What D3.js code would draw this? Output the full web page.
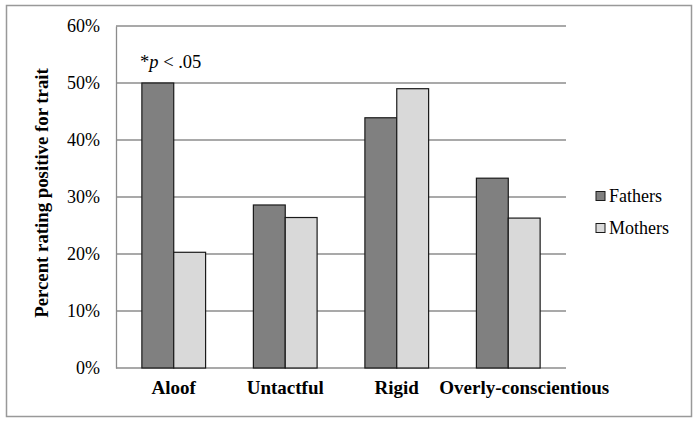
<!DOCTYPE html>
<html><head><meta charset="utf-8">
<script src="https://cdn.jsdelivr.net/npm/d3@7"></script>
<style>body{margin:0;background:#fff}svg{display:block}text{font-family:"Liberation Serif","Times New Roman",serif;fill:#000}</style>
</head><body><svg id="c" width="698" height="424"></svg>
<script>
const categories = ["Aloof", "Untactful", "Rigid", "Overly-conscientious"];
const fathers = [50.0, 28.6, 43.9, 33.3];
const mothers = [20.3, 26.4, 49.0, 26.3];
const seriesNames = ["Fathers", "Mothers"];
const yTicks = [0, 10, 20, 30, 40, 50, 60];
const colors = ["#808080", "#d9d9d9"];

const svg = d3.select("#c");
svg.append("rect").attr("x", 6.5).attr("y", 5.5).attr("width", 685).attr("height", 411)
  .attr("fill", "#fff").attr("stroke", "#999").attr("stroke-width", 1.5);

const pLeft = 116, pRight = 566, pTop = 26, pBottom = 368;
const y = d3.scaleLinear().domain([0, 60]).range([pBottom, pTop]);
const x0 = d3.scaleBand().domain(categories).range([pLeft, pRight]).paddingInner(0.4286).paddingOuter(0.232);
const x1 = d3.scaleBand().domain(seriesNames).range([0, x0.bandwidth()]);

// gridlines
svg.append("g").selectAll("line").data(yTicks).join("line")
  .attr("x1", pLeft).attr("x2", pRight).attr("y1", d => y(d)).attr("y2", d => y(d))
  .attr("stroke", "#8c8c8c").attr("stroke-width", 1.3);

// y axis
const yAxis = svg.append("g").attr("transform", `translate(${pLeft},0)`)
  .call(d3.axisLeft(y).tickValues(yTicks).tickFormat(d => d + "%").tickSize(0).tickPadding(16));
yAxis.select(".domain").attr("stroke", "#8c8c8c").attr("stroke-width", 1.3);
yAxis.selectAll("text").style("font-family", '"Liberation Serif",serif').style("font-size", "18px");

// bars
const rows = categories.map((c, i) => ({ c, vals: [fathers[i], mothers[i]] }));
const g = svg.append("g").selectAll("g").data(rows).join("g")
  .attr("transform", d => `translate(${x0(d.c)},0)`);
g.selectAll("rect").data(d => d.vals.map((v, j) => ({ v, s: seriesNames[j], j }))).join("rect")
  .attr("x", d => x1(d.s)).attr("width", x1.bandwidth())
  .attr("y", d => y(d.v)).attr("height", d => y(0) - y(d.v))
  .attr("fill", d => colors[d.j]).attr("stroke", "#1a1a1a").attr("stroke-width", 1.2);

// category labels (centered, pushed right if they would collide)
const labels = svg.append("g").selectAll("text").data(categories).join("text")
  .attr("x", d => x0(d) + x0.bandwidth() / 2).attr("y", 394)
  .attr("text-anchor", "middle").attr("font-weight", "bold").attr("font-size", 19)
  .text(d => d);
let prevRight = -Infinity;
labels.each(function () {
  const bb = this.getBBox();
  let shift = 0;
  if (bb.x < prevRight + 20) shift = prevRight + 20 - bb.x;
  d3.select(this).attr("x", +d3.select(this).attr("x") + shift);
  prevRight = bb.x + bb.width + shift;
});

// y title
svg.append("text").attr("transform", `translate(48,193) rotate(-90)`)
  .attr("text-anchor", "middle").attr("font-weight", "bold").attr("font-size", 18.8)
  .text("Percent rating positive for trait");

// annotation
const ann = svg.append("text").attr("x", 140).attr("y", 68).attr("font-size", 18.5);
ann.append("tspan").text("*");
ann.append("tspan").attr("font-style", "italic").text("p");
ann.append("tspan").text(" < .05");

// legend
const lg = svg.append("g").selectAll("g").data(seriesNames).join("g")
  .attr("transform", (d, i) => `translate(596,${196 + i * 32})`);
lg.append("rect").attr("x", 0).attr("y", -4.5).attr("width", 9).attr("height", 9)
  .attr("fill", (d, i) => colors[i]).attr("stroke", "#1a1a1a").attr("stroke-width", 1);
lg.append("text").attr("x", 13).attr("y", 6).attr("font-size", 18).text(d => d);
</script></body></html>
